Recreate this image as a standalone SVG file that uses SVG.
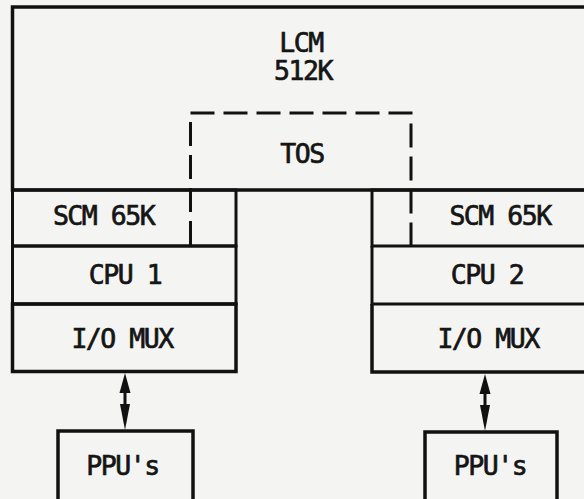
<svg xmlns="http://www.w3.org/2000/svg" width="584" height="499" viewBox="0 0 584 499">
<style>
.bg{fill:#f4f4f2}
.box{fill:none;stroke:#111;stroke-width:3.5;stroke-linejoin:miter}
.ln{fill:none;stroke:#111;stroke-width:3}
.dash{fill:none;stroke:#111;stroke-width:3;stroke-dasharray:24 9}
.t{font-family:"DejaVu Sans Mono","Liberation Mono",monospace;font-size:26.5px;letter-spacing:-1.5px;font-weight:normal;fill:#151515;stroke:#151515;stroke-width:0.7px;text-anchor:middle}
.ah{fill:#111}
</style>
<rect class="bg" x="0" y="0" width="584" height="499"/>
<g id="lcm">
  <rect class="box" x="12.5" y="7" width="590" height="183"/>
  <text class="t" x="301" y="52">LCM</text>
  <text class="t" x="303" y="80">512K</text>
</g>
<g id="tos">
  <path class="dash" d="M190.5,245 V113 H411 V245"/>
  <text class="t" x="302" y="163">TOS</text>
</g>
<g id="cpu1-stack">
  <g id="scm1">
    <path class="ln" d="M12.5,190 H236 V246 H12.5 Z"/>
    <text class="t" x="103.5" y="225">SCM 65K</text>
  </g>
  <g id="cpu1">
    <path class="ln" d="M12.5,246 H236 V304 H12.5 Z"/>
    <text class="t" x="125" y="284">CPU 1</text>
  </g>
  <g id="iomux1">
    <path class="box" d="M12.5,304 H236 V371.5 H12.5 Z"/>
    <text class="t" x="122" y="348">I/O MUX</text>
  </g>
</g>
<g id="cpu2-stack">
  <g id="scm2">
    <path class="ln" d="M604,190 H372 V246 H604"/>
    <text class="t" x="500" y="225">SCM 65K</text>
  </g>
  <g id="cpu2">
    <path class="ln" d="M372,246 V304 H604"/>
    <text class="t" x="487" y="284">CPU 2</text>
  </g>
  <g id="iomux2">
    <path class="box" d="M372,304 V372 H604"/>
    <text class="t" x="488" y="348">I/O MUX</text>
  </g>
</g>
<g id="ppu1">
  <rect class="box" x="58" y="431" width="135" height="80"/>
  <text class="t" x="122.5" y="475">PPU's</text>
</g>
<g id="ppu2">
  <rect class="box" x="425" y="432" width="132" height="80"/>
  <text class="t" x="490" y="475">PPU's</text>
</g>
<g id="connectors">
  <g>
    <line class="ln" x1="125" y1="390" x2="125" y2="410"/>
    <polygon class="ah" points="125,373 130.5,393 119.5,393"/>
    <polygon class="ah" points="120,404 130,404 125,430"/>
  </g>
  <g>
    <line class="ln" x1="485" y1="390" x2="485" y2="410"/>
    <polygon class="ah" points="485,374 490.5,394 479.5,394"/>
    <polygon class="ah" points="480,405 490,405 485,431"/>
  </g>
</g>
</svg>
